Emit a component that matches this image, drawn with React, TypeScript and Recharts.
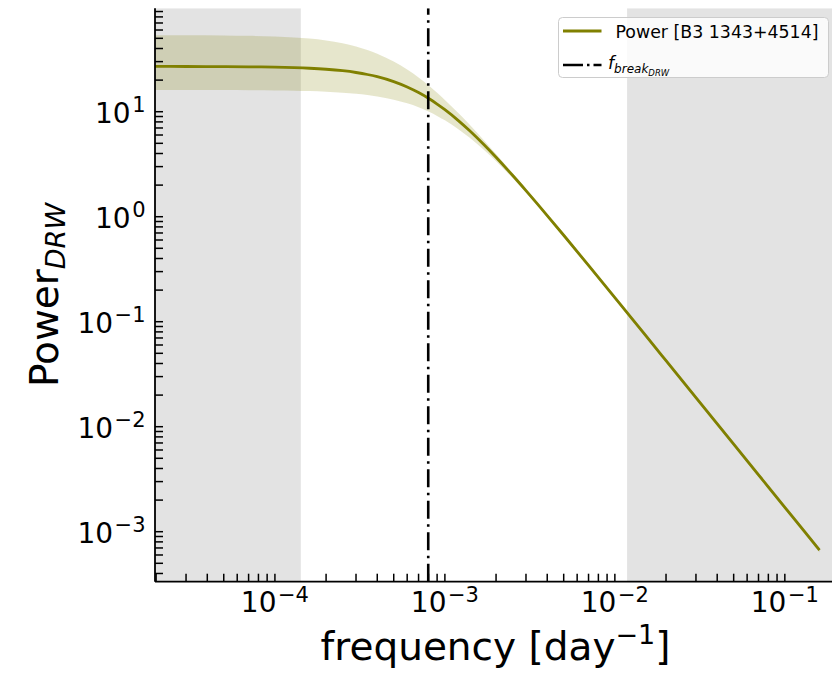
import React from 'react';
import {
  ComposedChart, Line, Area, XAxis, YAxis, ReferenceArea, ReferenceLine, Legend,
} from 'recharts';

// frequency [day^-1]
const freq = [
  1.97e-5, 3e-5, 5e-5, 7e-5, 1e-4, 1.3e-4, 1.6e-4, 2e-4, 2.5e-4, 3e-4, 3.5e-4, 4e-4,
  5e-4, 6e-4, 7e-4, 8e-4, 9e-4, 1e-3, 1.2e-3, 1.4e-3, 1.7e-3, 2e-3, 2.5e-3, 3e-3,
  4e-3, 5e-3, 7e-3, 1e-2, 1.5e-2, 2e-2, 3e-2, 5e-2, 7e-2, 0.1, 0.13, 0.16,
];
// median DRW power
const power = [
  26.98, 26.96, 26.89, 26.79, 26.58, 26.3, 25.95, 25.39, 24.57, 23.63, 22.62, 21.55,
  19.35, 17.2, 15.21, 13.42, 11.83, 10.46, 8.236, 6.584, 4.845, 3.684, 2.48, 1.772,
  1.026, 0.6657, 0.3438, 0.1696, 0.07563, 0.04259, 0.01895, 0.006825, 0.003482, 0.001706, 0.00101, 0.0006666,
];
// lower edge of the uncertainty band
const powerLow = [
  16.09, 16.09, 16.06, 16.03, 15.95, 15.85, 15.72, 15.51, 15.2, 14.84, 14.43, 13.99,
  13.02, 12.01, 11.01, 10.03, 9.122, 8.28, 6.822, 5.647, 4.317, 3.37, 2.333, 1.69,
  0.99, 0.64, 0.331, 0.163, 0.0721, 0.0406, 0.0181, 0.0065, 0.00332, 0.001625, 0.000962, 0.000635,
];
// upper edge of the uncertainty band
const powerHigh = [
  53.63, 53.55, 53.28, 52.89, 52.06, 50.99, 49.7, 47.7, 44.88, 41.86, 38.77, 35.73,
  30.07, 25.19, 21.14, 17.83, 15.14, 12.96, 9.716, 7.498, 5.325, 3.956, 2.61, 1.845,
  1.06, 0.697, 0.358, 0.176, 0.0792, 0.0446, 0.01985, 0.00715, 0.003655, 0.00179, 0.00106, 0.0007,
];

const fBreak = 7.98e-4;
const grayLow: [number, number] = [1.97e-5, 1.42e-4];
const grayHigh: [number, number] = [0.0118, 0.2];

const xDomain: [number, number] = [1.97e-5, 0.2];
const yDomain: [number, number] = [3.34e-4, 96.6];

const xMajor = [1e-4, 1e-3, 1e-2, 1e-1];
const xMajorLabels = ['\u22124', '\u22123', '\u22122', '\u22121'];
const yMajor = [1e-3, 1e-2, 1e-1, 1, 10];
const yMajorLabels = ['\u22123', '\u22122', '\u22121', '0', '1'];
const minorMult = [2, 3, 4, 5, 6, 7, 8, 9];

const legendLabel = 'Power [B3 1343+4514]';

const OLIVE = '#808000';
const FONT = 'DejaVu Sans';

const data = freq.map((f, i) => ({
  f,
  p: power[i],
  band: [powerLow[i], powerHigh[i]],
}));

function minorTicks(decades: number[], dom: [number, number]) {
  const out: number[] = [];
  decades.forEach((d) => minorMult.forEach((m) => {
    const v = m * Math.pow(10, d);
    if (v > dom[0] && v < dom[1]) out.push(v);
  }));
  return out;
}

const xTicks = [...xMajor, ...minorTicks([-5, -4, -3, -2, -1], xDomain)];
const yTicks = [...yMajor, ...minorTicks([-4, -3, -2, -1, 0, 1], yDomain)];

const isMajor = (arr: number[], v: number) => arr.findIndex((m) => Math.abs(m - v) / m < 1e-6);

const XTick = (props: any) => {
  const { x, y, payload } = props;
  const idx = isMajor(xMajor, payload.value);
  return (
    <g>
      <line x1={x} x2={x} y1={y} y2={y - 8} stroke="#000" strokeWidth={1.5} />
      {idx >= 0 && (
        <text x={x} y={y + 30} textAnchor="middle" fontFamily={FONT} fontSize={28} fill="#000">
          10<tspan dx={1.5} dy={-10} fontSize={21}>{xMajorLabels[idx]}</tspan>
        </text>
      )}
    </g>
  );
};

const YTick = (props: any) => {
  const { x, y, payload } = props;
  const idx = isMajor(yMajor, payload.value);
  return (
    <g>
      <line x1={x} x2={x + 8} y1={y} y2={y} stroke="#000" strokeWidth={1.5} />
      {idx >= 0 && (
        <text x={x - 9.5} y={y + 11.5} textAnchor="end" fontFamily={FONT} fontSize={28} fill="#000">
          10<tspan dx={1.5} dy={-11.5} fontSize={21}>{yMajorLabels[idx]}</tspan>
        </text>
      )}
    </g>
  );
};

const XLabel = (props: any) => {
  const vb = props.viewBox || { x: 155, y: 581.7, width: 681, height: 94 };
  const cx = vb.x + vb.width / 2;
  return (
    <text x={cx} y={vb.y + 78} textAnchor="middle" fontFamily={FONT} fontSize={39} fill="#000">
      frequency [day<tspan dy={-16} fontSize={27}>{'\u22121'}</tspan><tspan dy={16} fontSize={39}>]</tspan>
    </text>
  );
};

const YLabel = (props: any) => {
  const vb = props.viewBox || { x: 0, y: 8.3, width: 155, height: 573.4 };
  const cy = vb.y + vb.height / 2;
  const bx = 58;
  return (
    <text x={bx} y={cy} transform={`rotate(-90, ${bx}, ${cy})`} textAnchor="middle" fontFamily={FONT} fontSize={39} fill="#000">
      Power<tspan dy={7} fontSize={27} fontStyle="italic">DRW</tspan>
    </text>
  );
};

const LegendBox = () => (
  <svg width={272} height={62} style={{ display: 'block', overflow: 'visible' }}>
    <rect x={0.5} y={0.5} width={270} height={60} rx={4} ry={4} fill="#fff" fillOpacity={0.8} stroke="#cccccc" strokeWidth={1} />
    <line x1={5} x2={43.5} y1={14} y2={14} stroke={OLIVE} strokeWidth={2.8} />
    <text x={57.5} y={20.7} fontFamily={FONT} fontSize={17.3} fill="#000" textLength={203} lengthAdjust="spacingAndGlyphs">{legendLabel}</text>
    <line x1={5} x2={43.5} y1={48} y2={48} stroke="#000" strokeWidth={2.6} strokeDasharray="20 4 2.5 4" />
    <text x={50} y={52} fontFamily={FONT} fontSize={17.3} fontStyle="italic" fill="#000">
      f<tspan dy={4} fontSize={12}>break</tspan><tspan dy={3} fontSize={8.5}>DRW</tspan>
    </text>
  </svg>
);

export default function App() {
  return (
    <div style={{ position: 'absolute', left: 0, top: 0, width: 832, height: 676, overflow: 'hidden', background: '#fff' }}>
      <ComposedChart
        width={840}
        height={676}
        data={data}
        margin={{ top: 8.3, right: 4, bottom: 0, left: 0 }}
      >
        <XAxis
          dataKey="f"
          type="number"
          scale="log"
          domain={xDomain}
          allowDataOverflow
          ticks={xTicks}
          interval={0}
          tick={<XTick />}
          tickLine={false}
          tickSize={0}
          tickMargin={0}
          height={94.3}
          axisLine={{ stroke: '#000', strokeWidth: 1.8 }}
          label={{ content: XLabel } as any}
        />
        <XAxis
          xAxisId="top"
          orientation="top"
          dataKey="f"
          type="number"
          scale="log"
          domain={xDomain}
          allowDataOverflow
          tick={false}
          tickLine={false}
          height={0}
          axisLine={{ stroke: '#000', strokeWidth: 1.8 }}
        />
        <YAxis
          type="number"
          scale="log"
          domain={yDomain}
          allowDataOverflow
          ticks={yTicks}
          interval={0}
          tick={<YTick />}
          tickLine={false}
          tickSize={0}
          tickMargin={0}
          width={155}
          axisLine={{ stroke: '#000', strokeWidth: 1.8 }}
          label={{ content: YLabel } as any}
        />
        <ReferenceArea x1={grayLow[0]} x2={grayLow[1]} fill="#e3e3e3" fillOpacity={1} stroke="none" ifOverflow="hidden" />
        <ReferenceArea x1={grayHigh[0]} x2={grayHigh[1]} fill="#e3e3e3" fillOpacity={1} stroke="none" ifOverflow="hidden" />
        <Area
          dataKey="band"
          type="monotone"
          stroke="none"
          fill={OLIVE}
          fillOpacity={0.2}
          isAnimationActive={false}
          legendType="none"
        />
        <Line
          dataKey="p"
          type="monotone"
          stroke={OLIVE}
          strokeWidth={2.8}
          dot={false}
          isAnimationActive={false}
        />
        <ReferenceLine x={fBreak} stroke="#000" strokeWidth={2.6} strokeDasharray="18 5.5 2.5 5.5" ifOverflow="hidden" />
        <Legend
          layout="vertical"
          align="center"
          verticalAlign="middle"
          wrapperStyle={{ position: 'absolute', left: 557.5, top: 17.3, width: 272, height: 62 }}
          content={() => <LegendBox />}
        />
      </ComposedChart>
    </div>
  );
}
